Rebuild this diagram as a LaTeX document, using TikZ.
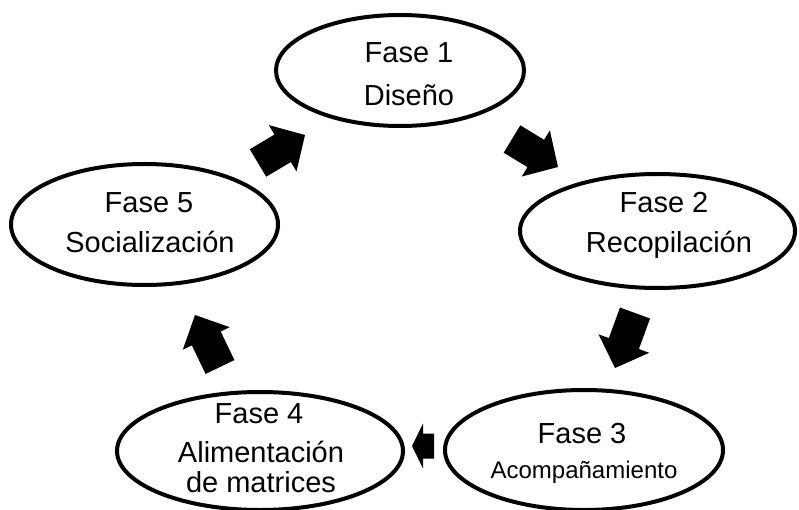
\documentclass[tikz,border=0pt]{standalone}
\usepackage{fontspec}
\setmainfont{Liberation Sans}
\usetikzlibrary{calc,shapes.geometric}
\tikzset{
  phase/.style={ellipse, draw=black, line width=4pt, inner sep=0pt},
  lbl/.style={anchor=base, inner sep=0pt, font=\fontsize{29}{34}\selectfont},
  lblsmall/.style={anchor=base, inner sep=0pt, font=\fontsize{24}{28}\selectfont},
  arrowfill/.style={fill=black}
}
% #1 start coordinate, #2 tip coordinate, #3 half shaft width, #4 half head width, #5 head length
\newcommand{\blockarrow}[5]{%
  \coordinate (#1-#2-h) at ($(#2)!#5!(#1)$);
  \fill[arrowfill] ($(#1)!#3!90:(#2)$) -- ($(#1-#2-h)!#3!90:(#2)$) -- ($(#1-#2-h)!#4!90:(#2)$)
    -- (#2) -- ($(#1-#2-h)!#4!-90:(#2)$) -- ($(#1-#2-h)!#3!-90:(#2)$) -- ($(#1)!#3!-90:(#2)$) -- cycle;}
\begin{document}
\begin{tikzpicture}[x=1pt,y=-1pt]
\useasboundingbox (0,0) rectangle (799,510);
% ellipses
\node[phase, minimum width=248pt, minimum height=111pt] (e1) at (400,70.5) {};
\node[phase, minimum width=275pt, minimum height=114pt] (e2) at (657.5,231) {};
\node[phase, minimum width=278pt, minimum height=120pt] (e3) at (584,450) {};
\node[phase, minimum width=286pt, minimum height=118pt] (e4) at (260,451) {};
\node[phase, minimum width=267pt, minimum height=121pt] (e5) at (144.5,224.5) {};
% labels
\node[lbl] (t1a) at (409,63) {Fase 1};
\node[lbl] (t1b) at (409,106) {Diseño};
\node[lbl] (t2a) at (664,213) {Fase 2};
\node[lbl] (t2b) at (669,253) {Recopilación};
\node[lbl] (t3a) at (582,443) {Fase 3};
\node[lblsmall] (t3b) at (584,478) {Acompañamiento};
\node[lbl] (t4a) at (259,423) {Fase 4};
\node[lbl] (t4b) at (261,462) {Alimentación};
\node[lbl] (t4c) at (261,492) {de matrices};
\node[lbl] (t5a) at (149,213) {Fase 5};
\node[lbl] (t5b) at (150,252) {Socialización};
% block arrows
\coordinate (a1s) at (258,163); \coordinate (a1t) at (305,135);
\coordinate (a2s) at (512,139); \coordinate (a2t) at (558,167);
\coordinate (a3s) at (635,313); \coordinate (a3t) at (615,368);
\coordinate (a4s) at (434,446); \coordinate (a4t) at (412,446);
\coordinate (a5s) at (220,367); \coordinate (a5t) at (195,315);
\blockarrow{a1s}{a1t}{16pt}{27pt}{26pt}
\blockarrow{a2s}{a2t}{16pt}{27pt}{26pt}
\blockarrow{a3s}{a3t}{16pt}{27pt}{26pt}
\blockarrow{a4s}{a4t}{12.5pt}{22.5pt}{11pt}
\blockarrow{a5s}{a5t}{16pt}{26pt}{26pt}
\end{tikzpicture}
\end{document}
